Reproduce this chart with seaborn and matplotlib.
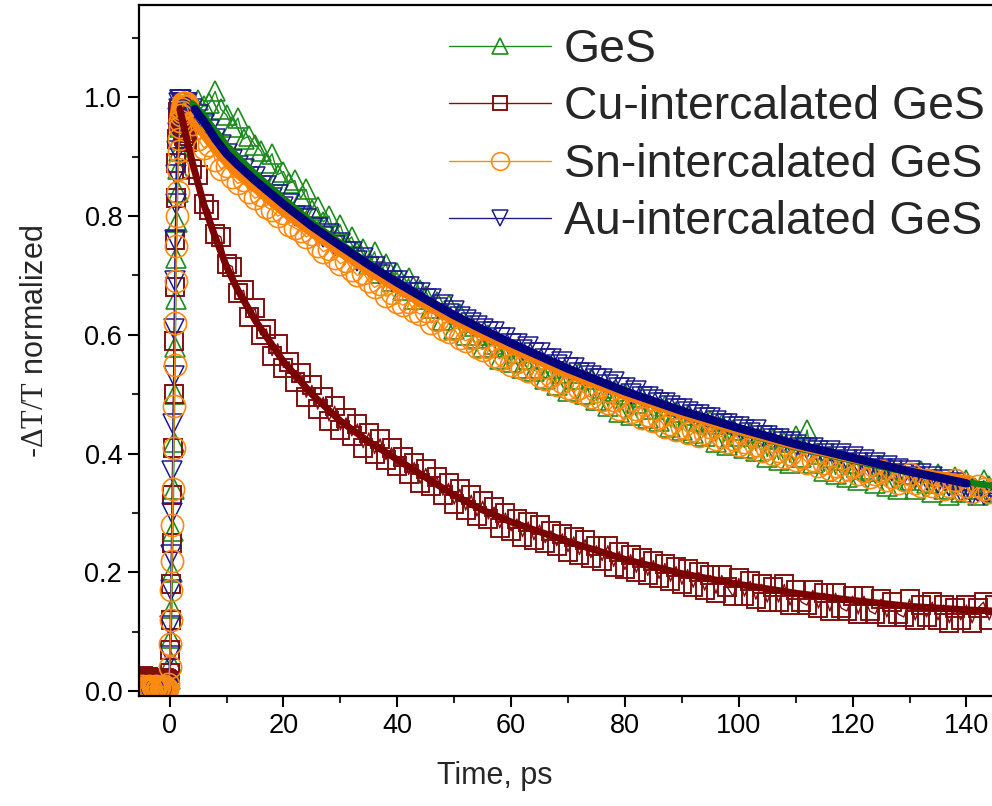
import numpy as np
import matplotlib
matplotlib.use("Agg")
import matplotlib.pyplot as plt
from matplotlib.ticker import MultipleLocator
import seaborn as sns

# time grid (ps): pre-zero baseline, fine steps over the rise, 1 ps steps in the decay
t_pre = np.round(np.arange(-5.0, -0.1, 0.2), 1)
t_rise = np.round(np.arange(0.0, 2.95, 0.1), 1)
t_decay = np.arange(3, 146)
time = np.concatenate([t_pre, t_rise, t_decay])

labels = ["GeS", "Cu-intercalated GeS", "Sn-intercalated GeS", "Au-intercalated GeS"]

# -dT/T normalized
ges = [0.002, -0.002, 0.003, 0.0, 0.001, -0.001, 0.002, 0.0, -0.002, 0.001,
       0.003, 0.0, -0.001, 0.002, 0.0, 0.001, -0.002, 0.0, 0.002, 0.001,
       -0.001, 0.0, 0.002, 0.0, 0.001,
       # rise
       0.0, 0.02, 0.05, 0.09, 0.14, 0.20, 0.27, 0.34, 0.42, 0.50,
       0.58, 0.66, 0.73, 0.79, 0.84, 0.88, 0.91, 0.93, 0.95, 0.96,
       0.965, 0.97, 0.975, 0.975, 0.98, 0.98, 0.985, 0.985, 0.99, 0.99,
       # decay 3..145 ps
       0.985, 0.99, 0.995, 0.985, 0.99, 1.01, 0.98, 0.97, 0.95, 0.965,
       0.93, 0.935, 0.92, 0.91, 0.89, 0.905, 0.87, 0.875, 0.855, 0.86,
       0.83, 0.845, 0.81, 0.815, 0.79, 0.80, 0.77, 0.785, 0.755, 0.765,
       0.74, 0.745, 0.72, 0.74, 0.705, 0.72, 0.69, 0.705, 0.675, 0.695,
       0.66, 0.675, 0.665, 0.645, 0.655, 0.625, 0.65, 0.61, 0.635, 0.60,
       0.615, 0.595, 0.58, 0.60, 0.585, 0.56, 0.58, 0.555, 0.57, 0.545,
       0.56, 0.54, 0.545, 0.525, 0.545, 0.515, 0.535, 0.505, 0.525, 0.535,
       0.50, 0.525, 0.49, 0.51, 0.48, 0.505, 0.47, 0.50, 0.465, 0.485,
       0.495, 0.46, 0.475, 0.455, 0.48, 0.445, 0.47, 0.44, 0.465, 0.435,
       0.455, 0.43, 0.455, 0.42, 0.45, 0.415, 0.44, 0.43, 0.41, 0.435,
       0.405, 0.43, 0.395, 0.425, 0.39, 0.42, 0.385, 0.43, 0.395, 0.44,
       0.385, 0.40, 0.37, 0.395, 0.365, 0.39, 0.36, 0.385, 0.355, 0.375,
       0.37, 0.35, 0.38, 0.345, 0.375, 0.34, 0.365, 0.355, 0.34, 0.37,
       0.35, 0.335, 0.365, 0.34, 0.33, 0.36, 0.335, 0.355, 0.34, 0.33,
       0.355, 0.345, 0.335]

cu = [0.02, 0.018, 0.025, 0.022, 0.015, 0.02, 0.024, 0.018, 0.021, 0.016,
      0.023, 0.019, 0.02, 0.017, 0.022, 0.018, 0.021, 0.015, 0.02, 0.018,
      0.022, 0.017, 0.02, 0.019, 0.018,
      0.03, 0.07, 0.12, 0.18, 0.25, 0.33, 0.41, 0.50, 0.59, 0.68,
      0.76, 0.83, 0.89, 0.93, 0.96, 0.975, 0.98, 0.98, 0.975, 0.97,
      0.965, 0.96, 0.955, 0.95, 0.945, 0.94, 0.935, 0.93, 0.925, 0.925,
      0.925, 0.88, 0.87, 0.82, 0.81, 0.77, 0.765, 0.72, 0.715, 0.67,
      0.675, 0.63, 0.645, 0.60, 0.61, 0.565, 0.585, 0.545, 0.555, 0.52,
      0.535, 0.495, 0.515, 0.475, 0.495, 0.455, 0.48, 0.44, 0.46, 0.43,
      0.45, 0.41, 0.435, 0.40, 0.425, 0.39, 0.41, 0.38, 0.395, 0.365,
      0.385, 0.35, 0.375, 0.345, 0.36, 0.33, 0.35, 0.315, 0.34, 0.305,
      0.33, 0.295, 0.32, 0.29, 0.31, 0.275, 0.30, 0.27, 0.29, 0.26,
      0.285, 0.255, 0.28, 0.25, 0.27, 0.245, 0.265, 0.235, 0.26, 0.23,
      0.255, 0.225, 0.245, 0.22, 0.245, 0.21, 0.235, 0.205, 0.23, 0.20,
      0.225, 0.195, 0.22, 0.19, 0.215, 0.185, 0.21, 0.18, 0.205, 0.175,
      0.20, 0.17, 0.195, 0.165, 0.195, 0.175, 0.16, 0.19, 0.16, 0.185,
      0.155, 0.18, 0.15, 0.175, 0.15, 0.18, 0.145, 0.17, 0.15, 0.145,
      0.17, 0.14, 0.165, 0.135, 0.165, 0.14, 0.135, 0.16, 0.13, 0.16,
      0.135, 0.13, 0.155, 0.125, 0.15, 0.13, 0.125, 0.155, 0.12, 0.145,
      0.125, 0.15, 0.12, 0.145, 0.115, 0.14, 0.12, 0.145, 0.115, 0.14,
      0.15, 0.12, 0.145]

sn = [0.005, 0.008, 0.004, 0.006, 0.007, 0.003, 0.006, 0.008, 0.005, 0.004,
      0.007, 0.006, 0.005, 0.008, 0.004, 0.006, 0.007, 0.005, 0.004, 0.006,
      0.008, 0.005, 0.006, 0.004, 0.012,
      0.04, 0.08, 0.12, 0.17, 0.22, 0.28, 0.34, 0.41, 0.48, 0.55,
      0.62, 0.69, 0.75, 0.80, 0.84, 0.88, 0.91, 0.93, 0.95, 0.96,
      0.97, 0.975, 0.98, 0.985, 0.99, 0.99, 0.99, 0.985, 0.99, 0.985,
      0.985, 0.955, 0.93, 0.915, 0.92, 0.895, 0.88, 0.885, 0.865, 0.855,
      0.86, 0.84, 0.83, 0.835, 0.815, 0.81, 0.80, 0.805, 0.785, 0.78,
      0.775, 0.765, 0.77, 0.75, 0.74, 0.745, 0.73, 0.72, 0.725, 0.71,
      0.70, 0.705, 0.69, 0.68, 0.685, 0.665, 0.67, 0.655, 0.65, 0.655,
      0.64, 0.635, 0.64, 0.62, 0.625, 0.61, 0.605, 0.61, 0.595, 0.59,
      0.595, 0.58, 0.575, 0.58, 0.565, 0.56, 0.565, 0.55, 0.555, 0.545,
      0.54, 0.545, 0.53, 0.525, 0.53, 0.515, 0.52, 0.51, 0.505, 0.51,
      0.50, 0.495, 0.505, 0.49, 0.485, 0.49, 0.475, 0.48, 0.47, 0.475,
      0.46, 0.465, 0.455, 0.46, 0.445, 0.45, 0.44, 0.445, 0.435, 0.44,
      0.43, 0.435, 0.445, 0.425, 0.43, 0.42, 0.425, 0.415, 0.42, 0.41,
      0.415, 0.405, 0.41, 0.40, 0.405, 0.395, 0.40, 0.39, 0.395, 0.385,
      0.39, 0.38, 0.385, 0.375, 0.38, 0.37, 0.375, 0.38, 0.365, 0.37,
      0.36, 0.365, 0.37, 0.355, 0.36, 0.35, 0.355, 0.365, 0.35, 0.345,
      0.355, 0.345, 0.35, 0.34, 0.345, 0.355, 0.34, 0.345, 0.335, 0.345,
      0.34, 0.335, 0.34]

au = [0.001, 0.0, -0.002, 0.002, 0.0, 0.001, -0.001, 0.002, 0.0, 0.001,
      -0.002, 0.0, 0.002, 0.001, 0.0, -0.001, 0.002, 0.0, 0.001, -0.001,
      0.0, 0.002, 0.001, 0.003, 0.01,
      0.06, 0.11, 0.17, 0.23, 0.30, 0.37, 0.45, 0.53, 0.61, 0.69,
      0.76, 0.82, 0.87, 0.91, 0.94, 0.965, 0.98, 0.99, 0.995, 0.995,
      0.995, 0.99, 0.99, 0.99, 0.985, 0.99, 0.985, 0.99, 0.985, 0.99,
      0.99, 0.98, 0.97, 0.955, 0.945, 0.93, 0.92, 0.905, 0.895, 0.885,
      0.88, 0.865, 0.865, 0.85, 0.85, 0.83, 0.835, 0.815, 0.82, 0.80,
      0.80, 0.795, 0.78, 0.78, 0.765, 0.77, 0.75, 0.755, 0.74, 0.74,
      0.725, 0.73, 0.715, 0.715, 0.70, 0.705, 0.69, 0.69, 0.68, 0.68,
      0.67, 0.67, 0.66, 0.66, 0.645, 0.65, 0.635, 0.64, 0.63, 0.625,
      0.62, 0.615, 0.61, 0.605, 0.605, 0.595, 0.595, 0.585, 0.585, 0.575,
      0.58, 0.57, 0.57, 0.56, 0.56, 0.55, 0.555, 0.545, 0.545, 0.535,
      0.535, 0.53, 0.525, 0.525, 0.515, 0.52, 0.51, 0.51, 0.50, 0.505,
      0.495, 0.495, 0.49, 0.485, 0.485, 0.48, 0.475, 0.475, 0.47, 0.465,
      0.465, 0.46, 0.46, 0.455, 0.45, 0.45, 0.445, 0.445, 0.44, 0.435,
      0.44, 0.43, 0.43, 0.425, 0.425, 0.42, 0.42, 0.415, 0.41, 0.41,
      0.41, 0.405, 0.40, 0.405, 0.395, 0.40, 0.39, 0.395, 0.385, 0.39,
      0.38, 0.385, 0.375, 0.38, 0.37, 0.375, 0.365, 0.37, 0.36, 0.365,
      0.355, 0.36, 0.35, 0.355, 0.345, 0.35, 0.335, 0.34, 0.33, 0.335,
      0.33, 0.335, 0.33]

# fitted decay curves (thick lines)
fit_t_ges = [4, 5, 6, 7, 8, 10, 12, 15, 20, 25, 30, 35, 40, 45, 50, 55, 60,
             70, 80, 90, 100, 110, 120, 130, 140, 150]
fit_ges = [0.99, 0.98, 0.97, 0.957, 0.945, 0.92, 0.90, 0.872, 0.83, 0.79, 0.755,
           0.72, 0.688, 0.658, 0.628, 0.602, 0.578, 0.535, 0.498, 0.465, 0.436,
           0.41, 0.388, 0.368, 0.352, 0.338]
fit_t_cu = [1.8, 3, 4, 5, 6, 7, 8, 10, 12, 15, 20, 25, 30, 35, 40, 45, 50, 55,
            60, 70, 80, 90, 100, 110, 120, 130, 140, 150]
fit_cu = [0.98, 0.93, 0.89, 0.855, 0.82, 0.792, 0.765, 0.715, 0.675, 0.625, 0.555,
          0.50, 0.455, 0.42, 0.39, 0.36, 0.33, 0.305, 0.285, 0.252, 0.222, 0.198,
          0.18, 0.165, 0.153, 0.143, 0.137, 0.133]
fit_t_sn = [4, 5, 6, 7, 8, 10, 12, 15, 20, 25, 30, 35, 40, 45, 50, 55, 60, 70,
            80, 90, 100, 110, 120, 130, 140]
fit_sn = [0.96, 0.947, 0.935, 0.922, 0.91, 0.888, 0.868, 0.845, 0.805, 0.77, 0.737,
          0.705, 0.676, 0.648, 0.622, 0.598, 0.575, 0.533, 0.497, 0.465, 0.437,
          0.412, 0.39, 0.372, 0.358]
fit_t_au = [4.4, 5, 6, 7, 8, 10, 12, 15, 20, 25, 30, 35, 40, 45, 50, 55, 60, 70,
            80, 90, 100, 110, 120, 130, 140]
fit_au = [0.98, 0.972, 0.96, 0.945, 0.93, 0.905, 0.886, 0.86, 0.82, 0.783, 0.75,
          0.718, 0.688, 0.66, 0.633, 0.609, 0.586, 0.543, 0.505, 0.472, 0.443,
          0.416, 0.393, 0.37, 0.35]

sns.set_style("ticks")
plt.rcParams["font.family"] = ["Liberation Sans", "DejaVu Sans"]
plt.rcParams["mathtext.fontset"] = "custom"
plt.rcParams["mathtext.rm"] = "Liberation Serif"
plt.rcParams["mathtext.it"] = "Liberation Serif:italic"

fig = plt.figure(figsize=(9.92, 8.06), dpi=100)
ax = fig.add_axes([0.140, 0.1365, 0.8916, 0.857])

styles = {
    "GeS": dict(y=ges, marker="^", ms=15, color="#1f8a1f", mew=1.2),
    "Cu-intercalated GeS": dict(y=cu, marker="s", ms=12.5, color="#801010", mew=1.4),
    "Sn-intercalated GeS": dict(y=sn, marker="o", ms=16, color="#ff8a12", mew=1.2),
    "Au-intercalated GeS": dict(y=au, marker="v", ms=15, color="#1c1c8c", mew=1.1),
}

handles = {}
for name in ["GeS", "Cu-intercalated GeS", "Au-intercalated GeS", "Sn-intercalated GeS"]:
    st = styles[name]
    sns.lineplot(x=time, y=st["y"], ax=ax, estimator=None, sort=False,
                 color=st["color"], lw=1.0, marker=st["marker"], markersize=st["ms"],
                 markerfacecolor="none", markeredgecolor=st["color"],
                 markeredgewidth=st["mew"], label=name, legend=False)
    handles[name] = ax.lines[-1]

# fit curves on top
sns.lineplot(x=fit_t_cu, y=fit_cu, ax=ax, estimator=None, sort=False,
             color="#7a0000", lw=5, legend=False)
sns.lineplot(x=fit_t_ges, y=fit_ges, ax=ax, estimator=None, sort=False,
             color="#0f800f", lw=4.5, legend=False)
sns.lineplot(x=fit_t_sn, y=fit_sn, ax=ax, estimator=None, sort=False,
             color="#ff8000", lw=5, legend=False)
sns.lineplot(x=fit_t_au, y=fit_au, ax=ax, estimator=None, sort=False,
             color="#00007a", lw=6, legend=False)

ax.set_xlim(-5.4, 150)
ax.set_ylim(-0.008, 1.155)
ax.xaxis.set_major_locator(MultipleLocator(20))
ax.xaxis.set_minor_locator(MultipleLocator(10))
ax.yaxis.set_minor_locator(MultipleLocator(0.1))
ax.set_yticks([0.0, 0.2, 0.4, 0.6, 0.8, 1.0])
ax.yaxis.set_major_formatter(matplotlib.ticker.FormatStrFormatter("%.1f"))

ax.tick_params(which="major", direction="out", length=8, width=1.5,
               labelsize=19.5, colors="black", pad=4)
ax.tick_params(which="minor", direction="out", length=5, width=1.5)
for side in ["left", "bottom", "top"]:
    ax.spines[side].set_linewidth(1.6)
    ax.spines[side].set_color("black")
ax.spines["right"].set_visible(False)

ax.set_xlabel("Time, ps", fontsize=22)
ax.set_ylabel(r"-$\mathrm{\Delta T/T}$ normalized", fontsize=22)
ax.xaxis.set_label_coords(0.4025, -0.094)
ax.yaxis.set_label_coords(-0.10, 0.514)

order = ["GeS", "Cu-intercalated GeS", "Sn-intercalated GeS", "Au-intercalated GeS"]
ax.legend([handles[k] for k in order], order, loc="upper left",
          bbox_to_anchor=(449 / 992, 1 - 28 / 806), bbox_transform=fig.transFigure,
          frameon=False, fontsize=33.4, handlelength=2.2, handletextpad=0.28,
          labelspacing=0.29, borderpad=0, borderaxespad=0, markerscale=0.8)

fig.savefig("out.png", dpi=100)
